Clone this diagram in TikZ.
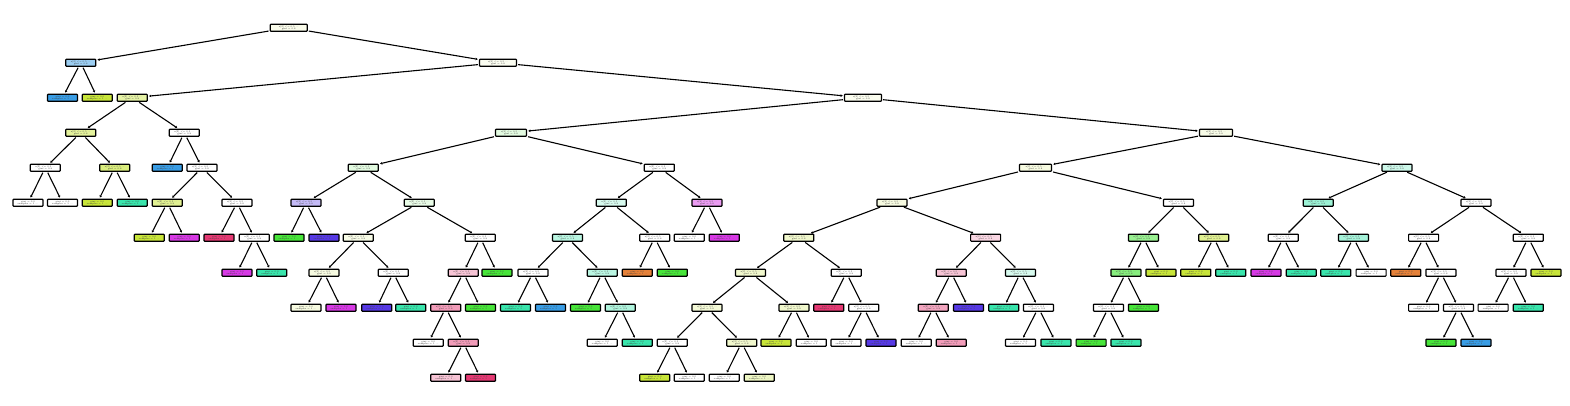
\documentclass[tikz,border=0pt]{standalone}
\usepackage{fontspec}
\usetikzlibrary{arrows.meta}
\definecolor{cO}{HTML}{E58139}
\definecolor{cY}{HTML}{C8E539}
\definecolor{cG}{HTML}{47E539}
\definecolor{cT}{HTML}{39E5AC}
\definecolor{cB}{HTML}{399DE5}
\definecolor{cI}{HTML}{5639E5}
\definecolor{cM}{HTML}{D739E5}
\definecolor{cC}{HTML}{E53973}
\newcommand\itxt{x[2] <= 0.5 ...\\[-0.5pt]gini = 0.8}
\newcommand\ltxt{gini = 0.0\\[-0.5pt]samples = 1 ...}
\tikzset{
  tn/.style={draw=black, line width=1.2pt, rounded corners=0.7pt, minimum width=30pt,
    minimum height=7pt, inner sep=0pt, align=center, text=black!75,
    font=\fontsize{2.3}{2.5}\selectfont},
  inode/.style={tn},
  leaf/.style={tn},
  edge/.style={draw=black, line width=1.1pt, -{Stealth[length=2.2pt,width=2.6pt]},
    shorten >=1.2pt, shorten <=1pt}
}
\begin{document}
\begin{tikzpicture}[x=1pt,y=-1pt]
\useasboundingbox (0,0) rectangle (1570,405);
% level 0
\node[inode,fill=cY!10,minimum width=37pt] (n0) at (288.7,27.7) {\itxt};
% level 1
\node[inode,fill=cB!50] (nA) at (80.7,62.7) {\itxt};
\node[inode,fill=cY!7,minimum width=37pt] (nB) at (498,62.7) {\itxt};
% level 2
\node[leaf,fill=cB] (lA1) at (62.5,97.7) {\ltxt};
\node[leaf,fill=cY] (lA2) at (97.3,97.7) {\ltxt};
\node[inode,fill=cY!45] (nC) at (132.3,97.7) {\itxt};
\node[inode,fill=cY!8,minimum width=37pt] (nV) at (863,97.7) {\itxt};
% level 3
\node[inode,fill=cY!50] (nD) at (80.7,132.7) {\itxt};
\node[inode,fill=white] (nE) at (184.3,132.7) {\itxt};
\node[inode,fill=cG!15,minimum width=31pt] (nW) at (511,132.7) {\itxt};
\node[inode,fill=cY!12,minimum width=33pt] (nRR) at (1216,132.7) {\itxt};
% level 4
\node[inode,fill=white] (nF) at (45.3,167.7) {\itxt};
\node[inode,fill=cY!65] (nG) at (114.7,167.7) {\itxt};
\node[leaf,fill=cB] (lE1) at (167.3,167.7) {\ltxt};
\node[inode,fill=white] (nH) at (202,167.7) {\itxt};
\node[inode,fill=cG!15] (nL) at (363.3,167.7) {\itxt};
\node[inode,fill=white] (nX) at (659.3,167.7) {\itxt};
\node[inode,fill=cY!15,minimum width=32pt] (nLV) at (1035.5,167.7) {\itxt};
\node[inode,fill=cT!25] (nAY) at (1397,167.7) {\itxt};
% level 5
\node[leaf,fill=white] (lF1) at (28,202.7) {\ltxt};
\node[leaf,fill=white] (lF2) at (62.5,202.7) {\ltxt};
\node[leaf,fill=cY] (lG1) at (97.3,202.7) {\ltxt};
\node[leaf,fill=cT] (lG2) at (132.3,202.7) {\ltxt};
\node[inode,fill=cY!55] (nI) at (167.3,202.7) {\itxt};
\node[inode,fill=white] (nJ) at (237,202.7) {\itxt};
\node[inode,fill=cI!35] (nM) at (306,202.7) {\itxt};
\node[inode,fill=cG!12] (nN) at (419.3,202.7) {\itxt};
\node[inode,fill=cT!20] (nY) at (611.3,202.7) {\itxt};
\node[inode,fill=cM!50] (nZ) at (707,202.7) {\itxt};
\node[inode,fill=cY!15] (nAF) at (892,202.7) {\itxt};
\node[inode,fill=white] (nAR) at (1178.5,202.7) {\itxt};
\node[inode,fill=cT!50] (nAZ) at (1318.2,202.7) {\itxt};
\node[inode,fill=white] (nBA) at (1476,202.7) {\itxt};
% level 6
\node[leaf,fill=cY] (lI1) at (149.3,237.7) {\ltxt};
\node[leaf,fill=cM] (lI2) at (184.3,237.7) {\ltxt};
\node[leaf,fill=cC] (lJ1) at (219,237.7) {\ltxt};
\node[inode,fill=white] (nK) at (254.3,237.7) {\itxt};
\node[leaf,fill=cG] (lM1) at (289,237.7) {\ltxt};
\node[leaf,fill=cI] (lM2) at (324,237.7) {\ltxt};
\node[inode,fill=cY!12] (nO) at (358.3,237.7) {\itxt};
\node[inode,fill=white] (nP) at (480.3,237.7) {\itxt};
\node[inode,fill=cT!35] (nAA) at (567.5,237.7) {\itxt};
\node[inode,fill=white] (nAB) at (654.7,237.7) {\itxt};
\node[leaf,fill=white] (lZ1) at (689.3,237.7) {\ltxt};
\node[leaf,fill=cM] (lZ2) at (724.3,237.7) {\ltxt};
\node[inode,fill=cY!25] (nAG) at (798.8,237.7) {\itxt};
\node[inode,fill=cC!20] (nAH) at (985.6,237.7) {\itxt};
\node[inode,fill=cG!55] (nAU) at (1143.4,237.7) {\itxt};
\node[inode,fill=cY!55] (nAV) at (1213.7,237.7) {\itxt};
\node[inode,fill=white] (nBB) at (1283.3,237.7) {\itxt};
\node[inode,fill=cT!45] (nBC) at (1353.4,237.7) {\itxt};
\node[inode,fill=white] (nBD) at (1423.6,237.7) {\itxt};
\node[inode,fill=white] (nBE) at (1528.3,237.7) {\itxt};
% level 7
\node[leaf,fill=cM] (lK1) at (237,272.7) {\ltxt};
\node[leaf,fill=cT] (lK2) at (271.7,272.7) {\ltxt};
\node[inode,fill=cY!15] (nQ) at (324,272.7) {\itxt};
\node[inode,fill=white] (nR) at (393.3,272.7) {\itxt};
\node[inode,fill=cC!30] (nS) at (463.3,272.7) {\itxt};
\node[leaf,fill=cG] (lP2) at (497,272.7) {\ltxt};
\node[inode,fill=white] (nAC) at (533,272.7) {\itxt};
\node[inode,fill=cT!35] (nAD) at (602.3,272.7) {\itxt};
\node[leaf,fill=cO] (lAB1) at (637.3,272.7) {\ltxt};
\node[leaf,fill=cG] (lAB2) at (672.3,272.7) {\ltxt};
\node[inode,fill=cY!25] (nAI) at (750.5,272.7) {\itxt};
\node[inode,fill=white] (nAJ) at (846.3,272.7) {\itxt};
\node[inode,fill=cC!30] (nAP) at (951.2,272.7) {\itxt};
\node[inode,fill=cT!20] (nAS) at (1020.5,272.7) {\itxt};
\node[inode,fill=cG!65] (nAW) at (1125.9,272.7) {\itxt};
\node[leaf,fill=cY] (lAU2) at (1160.9,272.7) {\ltxt};
\node[leaf,fill=cY] (lAV1) at (1195.8,272.7) {\ltxt};
\node[leaf,fill=cT] (lAV2) at (1230.8,272.7) {\ltxt};
\node[leaf,fill=cM] (lBB1) at (1266,272.7) {\ltxt};
\node[leaf,fill=cT] (lBB2) at (1301.2,272.7) {\ltxt};
\node[leaf,fill=cT] (lBC1) at (1335.7,272.7) {\ltxt};
\node[leaf,fill=white] (lBC2) at (1371.1,272.7) {\ltxt};
\node[leaf,fill=cO] (lBD1) at (1405.7,272.7) {\ltxt};
\node[inode,fill=white] (nBF) at (1440.9,272.7) {\itxt};
\node[inode,fill=white] (nBH) at (1511,272.7) {\itxt};
\node[leaf,fill=cY] (lBE2) at (1546,272.7) {\ltxt};
% level 8
\node[leaf,fill=cY!15] (lQ1) at (306,307.7) {\ltxt};
\node[leaf,fill=cM] (lQ2) at (341,307.7) {\ltxt};
\node[leaf,fill=cI] (lR1) at (376.7,307.7) {\ltxt};
\node[leaf,fill=cT] (lR2) at (410.8,307.7) {\ltxt};
\node[inode,fill=cC!50] (nT) at (445.8,307.7) {\itxt};
\node[leaf,fill=cG] (lS2) at (480.5,307.7) {\ltxt};
\node[leaf,fill=cT] (lAC1) at (515.5,307.7) {\ltxt};
\node[leaf,fill=cB] (lAC2) at (550.5,307.7) {\ltxt};
\node[leaf,fill=cG] (lAD1) at (585.5,307.7) {\ltxt};
\node[inode,fill=cT!40] (nAE) at (620.2,307.7) {\itxt};
\node[inode,fill=cY!20] (nAK) at (707,307.7) {\itxt};
\node[inode,fill=cY!25] (nAL) at (794,307.7) {\itxt};
\node[leaf,fill=cC] (lAJ1) at (828.8,307.7) {\ltxt};
\node[inode,fill=white] (nAO) at (863.7,307.7) {\itxt};
\node[inode,fill=cC!45] (nAQ) at (933.3,307.7) {\itxt};
\node[leaf,fill=cI] (lAP2) at (968.5,307.7) {\ltxt};
\node[leaf,fill=cT] (lAS1) at (1003.7,307.7) {\ltxt};
\node[inode,fill=white] (nAT) at (1038.4,307.7) {\itxt};
\node[inode,fill=white] (nAX) at (1108.4,307.7) {\itxt};
\node[leaf,fill=cG] (lAW2) at (1143.4,307.7) {\ltxt};
\node[leaf,fill=white] (lBF1) at (1423.6,307.7) {\ltxt};
\node[inode,fill=white] (nBG) at (1458.5,307.7) {\itxt};
\node[leaf,fill=white] (lBH1) at (1493.1,307.7) {\ltxt};
\node[leaf,fill=cT] (lBH2) at (1528.3,307.7) {\ltxt};
% level 9
\node[leaf,fill=white] (lT1) at (428.3,342.7) {\ltxt};
\node[inode,fill=cC!50] (nU) at (463.3,342.7) {\itxt};
\node[leaf,fill=white] (lAE1) at (602.3,342.7) {\ltxt};
\node[leaf,fill=cT] (lAE2) at (637.3,342.7) {\ltxt};
\node[inode,fill=white] (nAM) at (672.3,342.7) {\itxt};
\node[inode,fill=cY!25] (nAN) at (741.7,342.7) {\itxt};
\node[leaf,fill=cY] (lAL1) at (776,342.7) {\ltxt};
\node[leaf,fill=white] (lAL2) at (811.3,342.7) {\ltxt};
\node[leaf,fill=white] (lAO1) at (846,342.7) {\ltxt};
\node[leaf,fill=cI] (lAO2) at (881,342.7) {\ltxt};
\node[leaf,fill=white] (lAQ1) at (916.2,342.7) {\ltxt};
\node[leaf,fill=cC!50] (lAQ2) at (951.2,342.7) {\ltxt};
\node[leaf,fill=white] (lAT1) at (1020.5,342.7) {\ltxt};
\node[leaf,fill=cT] (lAT2) at (1055.9,342.7) {\ltxt};
\node[leaf,fill=cG] (lAX1) at (1091.1,342.7) {\ltxt};
\node[leaf,fill=cT] (lAX2) at (1125.9,342.7) {\ltxt};
\node[leaf,fill=cG] (lBG1) at (1440.9,342.7) {\ltxt};
\node[leaf,fill=cB] (lBG2) at (1476,342.7) {\ltxt};
% level 10
\node[leaf,fill=cC!30] (lU1) at (445.8,377.7) {\ltxt};
\node[leaf,fill=cC] (lU2) at (480.5,377.7) {\ltxt};
\node[leaf,fill=cY] (lAM1) at (654.7,377.7) {\ltxt};
\node[leaf,fill=white] (lAM2) at (689.3,377.7) {\ltxt};
\node[leaf,fill=white] (lAN1) at (724.3,377.7) {\ltxt};
\node[leaf,fill=cY!30] (lAN2) at (759.3,377.7) {\ltxt};
% edges
\foreach \p/\c in {n0/nA,n0/nB,nA/lA1,nA/lA2,nB/nC,nB/nV,nC/nD,nC/nE,nV/nW,nV/nRR,
  nD/nF,nD/nG,nE/lE1,nE/nH,nW/nL,nW/nX,nRR/nLV,nRR/nAY,nF/lF1,nF/lF2,nG/lG1,nG/lG2,
  nH/nI,nH/nJ,nL/nM,nL/nN,nX/nY,nX/nZ,nLV/nAF,nLV/nAR,nAY/nAZ,nAY/nBA,nI/lI1,nI/lI2,
  nJ/lJ1,nJ/nK,nM/lM1,nM/lM2,nN/nO,nN/nP,nY/nAA,nY/nAB,nZ/lZ1,nZ/lZ2,nAF/nAG,nAF/nAH,
  nAR/nAU,nAR/nAV,nAZ/nBB,nAZ/nBC,nBA/nBD,nBA/nBE,nK/lK1,nK/lK2,nO/nQ,nO/nR,nP/nS,nP/lP2,
  nAA/nAC,nAA/nAD,nAB/lAB1,nAB/lAB2,nAG/nAI,nAG/nAJ,nAH/nAP,nAH/nAS,nAU/nAW,nAU/lAU2,
  nAV/lAV1,nAV/lAV2,nBB/lBB1,nBB/lBB2,nBC/lBC1,nBC/lBC2,nBD/lBD1,nBD/nBF,nBE/nBH,nBE/lBE2,
  nQ/lQ1,nQ/lQ2,nR/lR1,nR/lR2,nS/nT,nS/lS2,nAC/lAC1,nAC/lAC2,nAD/lAD1,nAD/nAE,nAI/nAK,nAI/nAL,
  nAJ/lAJ1,nAJ/nAO,nAP/nAQ,nAP/lAP2,nAS/lAS1,nAS/nAT,nAW/nAX,nAW/lAW2,nBF/lBF1,nBF/nBG,
  nBH/lBH1,nBH/lBH2,nT/lT1,nT/nU,nAE/lAE1,nAE/lAE2,nAK/nAM,nAK/nAN,nAL/lAL1,nAL/lAL2,
  nAO/lAO1,nAO/lAO2,nAQ/lAQ1,nAQ/lAQ2,nAT/lAT1,nAT/lAT2,nAX/lAX1,nAX/lAX2,nBG/lBG1,nBG/lBG2,
  nU/lU1,nU/lU2,nAM/lAM1,nAM/lAM2,nAN/lAN1,nAN/lAN2}
  \draw[edge] (\p) -- (\c);
\end{tikzpicture}
\end{document}
